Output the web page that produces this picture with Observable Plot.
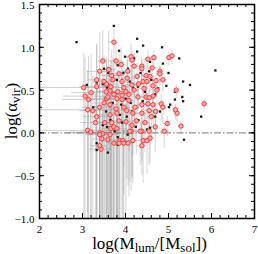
<!DOCTYPE html>
<html><head><meta charset="utf-8">
<script src="https://cdn.jsdelivr.net/npm/d3@7"></script>
<script src="https://cdn.jsdelivr.net/npm/@observablehq/plot@0.6"></script>
<style>body{margin:0;background:#fff} svg{display:block}</style>
</head><body><div id="chart"></div>
<script>
// Tick values
const xTicks = [2, 3, 4, 5, 6, 7];
const yTicks = [-1, -0.5, 0, 0.5, 1, 1.5];
const xMinor = d3.range(2, 7.001, 0.2);
const yMinor = d3.range(-1, 1.501, 0.1);

// Red circles (with error bars)
const redX = [3.73,3.47,3.78,3.40,3.61,3.50,3.33,3.03,4.13,4.15,3.68,3.85,4.04,3.71,3.56,3.92,3.66,4.27,4.15,3.96,
3.33,4.01,3.82,3.64,4.20,3.73,3.92,4.08,4.29,3.56,3.80,4.38,4.38,4.52,4.66,5.01,5.08,4.62,4.48,4.57,
4.80,4.80,4.41,4.50,4.71,4.87,4.64,4.73,5.18,4.43,4.48,4.64,4.55,3.24,3.64,3.92,4.08,4.38,4.52,4.64,
4.83,3.64,3.80,4.03,4.17,4.38,4.55,5.20,3.68,3.85,4.01,4.15,4.13,4.38,3.40,3.47,3.59,3.87,3.94,4.17,
4.41,4.50,3.12,3.19,3.40,3.45,3.43,3.40,3.66,3.73,3.80,3.64,3.73,3.85,3.96,4.06,4.10,4.34,4.55,4.69,
4.90,4.57,4.38,5.29,4.97,4.87,5.83,5.16,3.14,3.12,3.40,3.33,3.06,3.59,3.50,3.96,4.22,4.25,3.52,3.30,
4.45,4.60,3.78,4.30,4.05,4.20,3.55,3.20,3.90,4.70];
const redY = [1.06,0.84,0.84,0.72,0.74,0.60,0.62,0.53,0.89,0.85,0.67,0.69,0.64,0.62,0.57,0.60,0.54,0.66,0.56,0.53,
0.54,0.48,0.48,0.49,0.50,0.45,0.44,0.45,0.42,0.40,0.40,0.78,0.75,0.86,0.88,0.88,0.90,0.76,0.67,0.66,
0.72,0.69,0.60,0.60,0.61,0.62,0.55,0.50,0.50,0.52,0.42,0.43,0.41,0.26,0.33,0.39,0.38,0.33,0.34,0.33,
0.34,0.21,0.23,0.26,0.23,0.23,0.26,0.23,0.12,0.14,0.13,0.09,0.02,0.02,0.00,-0.01,-0.08,-0.09,-0.09,-0.09,
-0.09,-0.09,0.03,0.01,-0.02,-0.07,-0.19,-0.15,0.05,0.07,0.05,-0.02,-0.12,-0.12,-0.12,-0.12,0.02,0.02,0.02,0.07,
0.02,-0.06,-0.15,0.08,0.11,0.30,0.34,0.27,0.39,0.27,0.30,0.19,0.43,0.42,0.35,0.30,0.30,0.14,0.12,0.12,
0.12,0.19,0.28,0.57,0.72,0.78,0.48,0.47,0.80,0.25];
const redXErr = [.12,.10,.18,.30,.15,.25,.20,1.00,.15,.10,.30,.15,.20,.10,.25,.12,.20,.10,.15,.10,
.40,.12,.20,.30,.10,.15,.10,.20,.12,.50,.10,.08,.08,.10,.08,.06,.06,.10,.10,.08,
.08,.08,.10,.10,.08,.08,.10,.08,.06,.10,.10,.10,.08,.30,.20,.15,.12,.10,.10,.08,
.08,.30,.15,.20,.12,.10,.10,.06,.25,.15,.12,.15,.20,.10,.80,.40,.20,.15,.15,.10,
.12,.10,1.10,.50,.30,.20,.25,.20,.20,.15,.25,.15,.12,.10,.12,.10,.15,.10,.10,.08,
.08,.10,.10,.06,.08,.08,.05,.06,.60,1.10,.40,.30,.50,.20,.25,.15,.12,.12,.25,.35,
.10,.08,.15,.10,.12,.10,.30,.45,.12,.08];
const redYLo = [.35,1.90,.45,1.75,1.80,.70,1.65,1.55,.30,.40,1.70,.60,.50,1.65,1.60,.55,1.55,.40,1.10,1.55,
1.55,.60,1.50,.70,.35,1.45,.50,1.20,.30,1.40,1.40,.20,.20,.15,.12,.10,.10,.25,.30,.20,
.15,.15,.35,.30,.20,.15,.25,.20,.10,.40,.30,.25,.20,1.26,1.33,1.39,.60,.40,.30,.25,
.20,1.21,1.23,.80,.50,.35,.30,.12,1.12,1.14,1.13,.60,.70,.35,1.00,.99,.92,.91,.91,.50,
.50,.40,.97,.99,.98,.93,.81,.85,1.05,1.07,1.05,.98,.88,.88,.60,.50,.60,.40,.40,.30,
.20,.30,.35,.10,.15,.20,.06,.12,1.39,1.27,1.30,1.19,1.43,1.42,1.35,.70,.40,.40,1.12,1.12,
.35,.30,1.28,.30,.45,.35,1.48,1.47,.50,.25];
const redYHi = [.15,.35,.20,.45,.45,.30,.40,.40,.15,.10,.30,.25,.20,.25,.30,.20,.30,.15,.20,.25,
.50,.20,.25,.30,.15,.30,.20,.15,.15,.35,.20,.10,.10,.10,.08,.06,.06,.10,.15,.10,
.08,.08,.15,.12,.10,.08,.10,.08,.06,.15,.12,.10,.10,.40,.35,.25,.20,.15,.12,.10,
.10,.30,.25,.20,.15,.12,.10,.06,.35,.25,.20,.15,.20,.10,.35,.30,.25,.20,.20,.15,
.12,.10,.40,.35,.30,.30,.25,.30,.30,.25,.20,.25,.20,.20,.15,.15,.15,.10,.10,.10,
.08,.10,.12,.06,.08,.08,.05,.06,.50,.45,.40,.35,.45,.35,.30,.25,.15,.15,.30,.35,
.12,.10,.25,.12,.18,.15,.40,.45,.20,.10];

// Black squares
const blackX = [2.86,3.73,3.85,3.99,3.82,4.06,3.33,3.47,3.57,3.80,4.17,3.71,3.10,4.27,4.41,4.85,5.25,6.09,4.87,4.27,
4.20,4.57,5.15,5.34,5.50,5.32,4.76,4.69,4.29,4.27,3.80,3.47,3.57,3.87,4.03,4.15,3.45,3.82,3.92,4.24,
5.34,5.15,5.04,5.01,4.85,4.80,5.36,4.69,4.50,4.57,5.76,3.33,3.59,3.82,3.33,3.60,3.95,4.10,3.70,3.90,
4.45,4.60,4.35,3.55,4.00,4.40,4.12,3.65,4.30,3.25,3.50,4.55,4.95,5.00,3.75,4.05];
const blackY = [1.06,1.25,0.96,0.89,0.79,0.75,0.59,0.57,0.53,0.62,0.53,0.45,0.56,1.10,1.02,1.00,0.87,0.73,0.81,0.95,
0.87,0.83,0.48,0.60,0.56,0.42,0.52,0.45,0.54,0.42,0.23,0.09,0.07,0.21,0.19,0.25,0.00,-0.05,0.12,0.07,
0.37,0.39,0.33,0.30,0.30,0.25,-0.08,0.19,0.04,0.06,0.19,-0.20,-0.23,-0.14,-0.12,0.70,0.70,0.60,0.35,0.33,
0.48,0.62,0.70,0.25,0.40,0.37,0.35,0.15,0.15,0.30,0.75,0.72,0.55,0.70,0.02,-0.02];

const red = redX.map((x, i) => ({x, y: redY[i], xe: redXErr[i], lo: redYLo[i], hi: redYHi[i]}));
const black = blackX.map((x, i) => ({x, y: blackY[i]}));

const W = 258, H = 254, mL = 39, mR = 4, mT = 4, mB = 36;
const innerW = W - mL - mR, innerH = H - mT - mB;

const plot = Plot.plot({
  width: W, height: H,
  marginLeft: mL, marginRight: mR, marginTop: mT, marginBottom: mB,
  style: {fontFamily: "Liberation Serif", fontSize: "11px", color: "#000", background: "#fff", overflow: "visible"},
  x: {domain: [2, 7], label: null},
  y: {domain: [-1, 1.5], label: null},
  marks: [
    Plot.ruleY(red, {x1: d => d.x - d.xe, x2: d => d.x + d.xe, y: "y", stroke: "#a0a0a0", strokeOpacity: 0.5, clip: true}),
    Plot.ruleX(red, {x: "x", y1: d => d.y - d.lo, y2: d => d.y + d.hi, stroke: "#a0a0a0", strokeOpacity: 0.45, clip: true}),
    Plot.ruleY([0], {stroke: "#777", strokeDasharray: "7,2,1.5,2"}),
    Plot.dot(black, {x: "x", y: "y", symbol: "square", r: 1.3, fill: "#1a1a1a"}),
    Plot.dot(red, {x: "x", y: "y", r: 2.2, fill: "#ffb0b0", stroke: "#ff3838", strokeWidth: 1}),
    // inward ticks
    Plot.ruleX(xTicks, {x: d => d, insetTop: innerH - 5, stroke: "#000"}),
    Plot.ruleX(xTicks, {x: d => d, insetBottom: innerH - 5, stroke: "#000"}),
    Plot.ruleX(xMinor, {x: d => d, insetTop: innerH - 3, stroke: "#000"}),
    Plot.ruleX(xMinor, {x: d => d, insetBottom: innerH - 3, stroke: "#000"}),
    Plot.ruleY(yTicks, {y: d => d, insetRight: innerW - 5, stroke: "#000"}),
    Plot.ruleY(yTicks, {y: d => d, insetLeft: innerW - 5, stroke: "#000"}),
    Plot.ruleY(yMinor, {y: d => d, insetRight: innerW - 3, stroke: "#000"}),
    Plot.ruleY(yMinor, {y: d => d, insetLeft: innerW - 3, stroke: "#000"}),
    Plot.frame({stroke: "#000", strokeWidth: 1.5}),
    Plot.axisX(xTicks, {tickSize: 0, tickPadding: 7, tickFormat: d3.format("d"), fontSize: 11}),
    Plot.axisY(yTicks, {tickSize: 0, tickPadding: 5, dy: 1, tickFormat: d3.format(".1f"), fontSize: 11})
  ]
});

const svg = d3.select(plot);
const xt = svg.append("text")
  .attr("x", mL + innerW / 2 + 3).attr("y", 249)
  .attr("text-anchor", "middle")
  .style("font-family", "Liberation Serif").style("font-size", "17px").attr("fill", "#000");
xt.append("tspan").text("log(M");
xt.append("tspan").attr("dy", 3).style("font-size", "13px").text("lum");
xt.append("tspan").attr("dy", -3).text("/[M");
xt.append("tspan").attr("dy", 3).style("font-size", "13px").text("sol");
xt.append("tspan").attr("dy", -3).text("])");

const yt = svg.append("text")
  .attr("transform", `translate(17,${mT + innerH / 2}) rotate(-90)`)
  .attr("text-anchor", "middle")
  .style("font-family", "Liberation Serif").style("font-size", "17px").attr("fill", "#000");
yt.append("tspan").text("log(α");
yt.append("tspan").attr("dy", 3).style("font-size", "13px").text("vir");
yt.append("tspan").attr("dy", -3).text(")");

document.getElementById("chart").append(plot);
</script>
</body></html>
